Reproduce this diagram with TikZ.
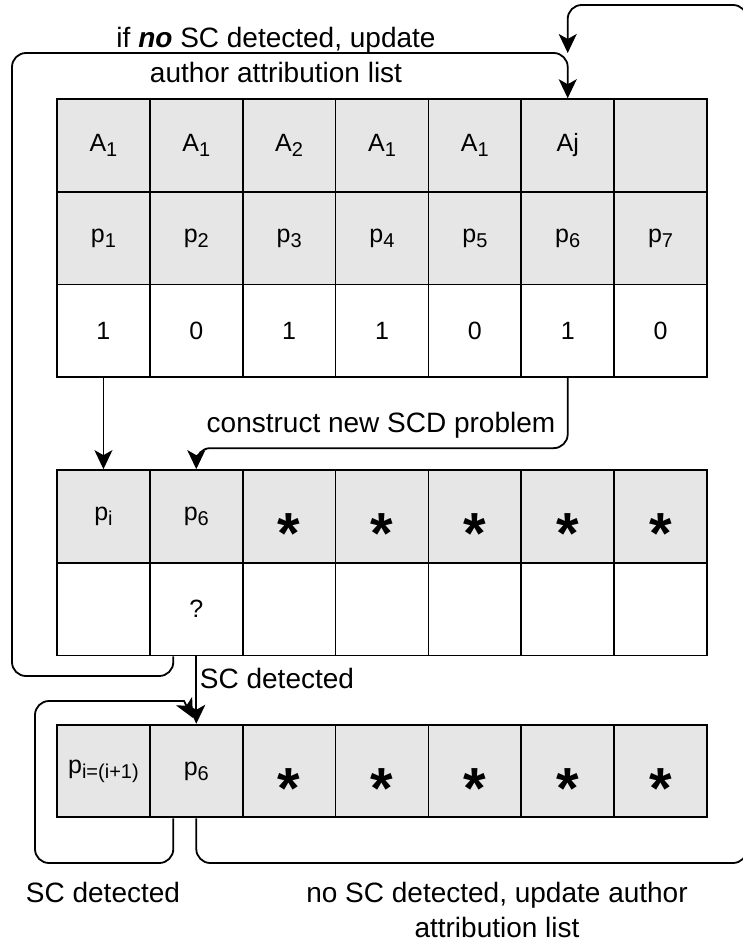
\documentclass[tikz,border=0pt]{standalone}
\usepackage{fontspec}
\setmainfont{Liberation Sans}
\usetikzlibrary{arrows.meta}
\definecolor{cellgray}{HTML}{E6E6E6}
\newcommand{\sbx}[1]{\raisebox{-0.2em}{\fontsize{20}{20}\selectfont #1}}
\newcommand{\stx}{\raisebox{-37pt}[0pt][0pt]{\fontsize{58}{58}\selectfont\bfseries *}}
\begin{document}
\begin{tikzpicture}[x=1pt,y=-1pt,
  cell/.style={draw=black, line width=1.8pt, minimum width=92.86pt, minimum height=92.7pt, inner sep=0pt, font=\fontsize{25}{25}\selectfont},
  gcell/.style={cell, fill=cellgray},
  wcell/.style={cell, fill=white},
  conn/.style={draw=black, line width=1.8pt, rounded corners=14pt},
  arrowend/.style={-{Stealth[length=19pt,width=18pt,inset=5pt]}},
  lbl/.style={font=\fontsize{28}{35}\selectfont, align=center, inner sep=0pt}
]
\useasboundingbox (0,0) rectangle (743,942);

% top table
\foreach \c/\txt in {1/{A\sbx{1}},2/{A\sbx{1}},3/{A\sbx{2}},4/{A\sbx{1}},5/{A\sbx{1}},6/{Aj},7/{}}
  \node[gcell] (ta\c) at ({57+92.857*(\c-0.5)},145.5) {\txt};
\foreach \c/\txt in {1/{p\sbx{1}},2/{p\sbx{2}},3/{p\sbx{3}},4/{p\sbx{4}},5/{p\sbx{5}},6/{p\sbx{6}},7/{p\sbx{7}}}
  \node[gcell] (tb\c) at ({57+92.857*(\c-0.5)},238.2) {\txt};
\foreach \c/\txt in {1/1,2/0,3/1,4/1,5/0,6/1,7/0}
  \node[wcell] (tc\c) at ({57+92.857*(\c-0.5)},330.9) {\txt};

% middle table
\foreach \c/\txt in {1/{p\sbx{i}},2/{p\sbx{6}},3/{\stx},4/{\stx},5/{\stx},6/{\stx},7/{\stx}}
  \node[gcell] (ma\c) at ({57+92.857*(\c-0.5)},516.4) {\txt};
\foreach \c/\txt in {1/{},2/{?},3/{},4/{},5/{},6/{},7/{}}
  \node[wcell] (mb\c) at ({57+92.857*(\c-0.5)},609.1) {\txt};

% bottom table
\foreach \c/\txt in {1/{p\sbx{i=(i+1)}},2/{p\sbx{6}},3/{\stx},4/{\stx},5/{\stx},6/{\stx},7/{\stx}}
  \node[gcell] (ba\c) at ({57+92.857*(\c-0.5)},771) {\txt};

% helper coordinates
\coordinate (join) at (567.71,53);
\coordinate (c3a) at (12,676);
\coordinate (c3b) at (12,53);
\coordinate (c5a) at (35,863);
\coordinate (c5b) at (35,701);
\coordinate (c5c) at (170,701);
\coordinate (c5d) at (193,718);
\coordinate (c6a) at (747,863);
\coordinate (c6b) at (747,5);

% connectors
\draw[conn, arrowend] (tc1.south) -- (ma1.north);
\draw[conn, arrowend] (tc6.south) -- ++(0,70) -| (ma2.north);
\draw[conn, arrowend] ([xshift=-23pt]mb2.south) |- (c3a) -- (c3b) -| (ta6.north);
\draw[conn, arrowend] (mb2.south) -- (ba2.north);
\draw[conn, arrowend] ([xshift=-23pt]ba2.south) |- (c5a) -- (c5b) -- (c5c) .. controls (184,701) .. (c5d);
\draw[conn, arrowend] (ba2.south) |- (c6a) -- (c6b) -| (join);

% labels
\node[lbl] (l1) at (276,55) {if \textbf{\textit{no}} SC detected, update\\author attribution list};
\node[lbl] (l2) at (381,425) {construct new SCD problem};
\node[lbl] (l3) at (277,678) {SC detected};
\node[lbl] (l4) at (103,892) {SC detected};
\node[lbl] (l5) at (497,910) {no SC detected, update author\\attribution list};
\end{tikzpicture}
\end{document}
